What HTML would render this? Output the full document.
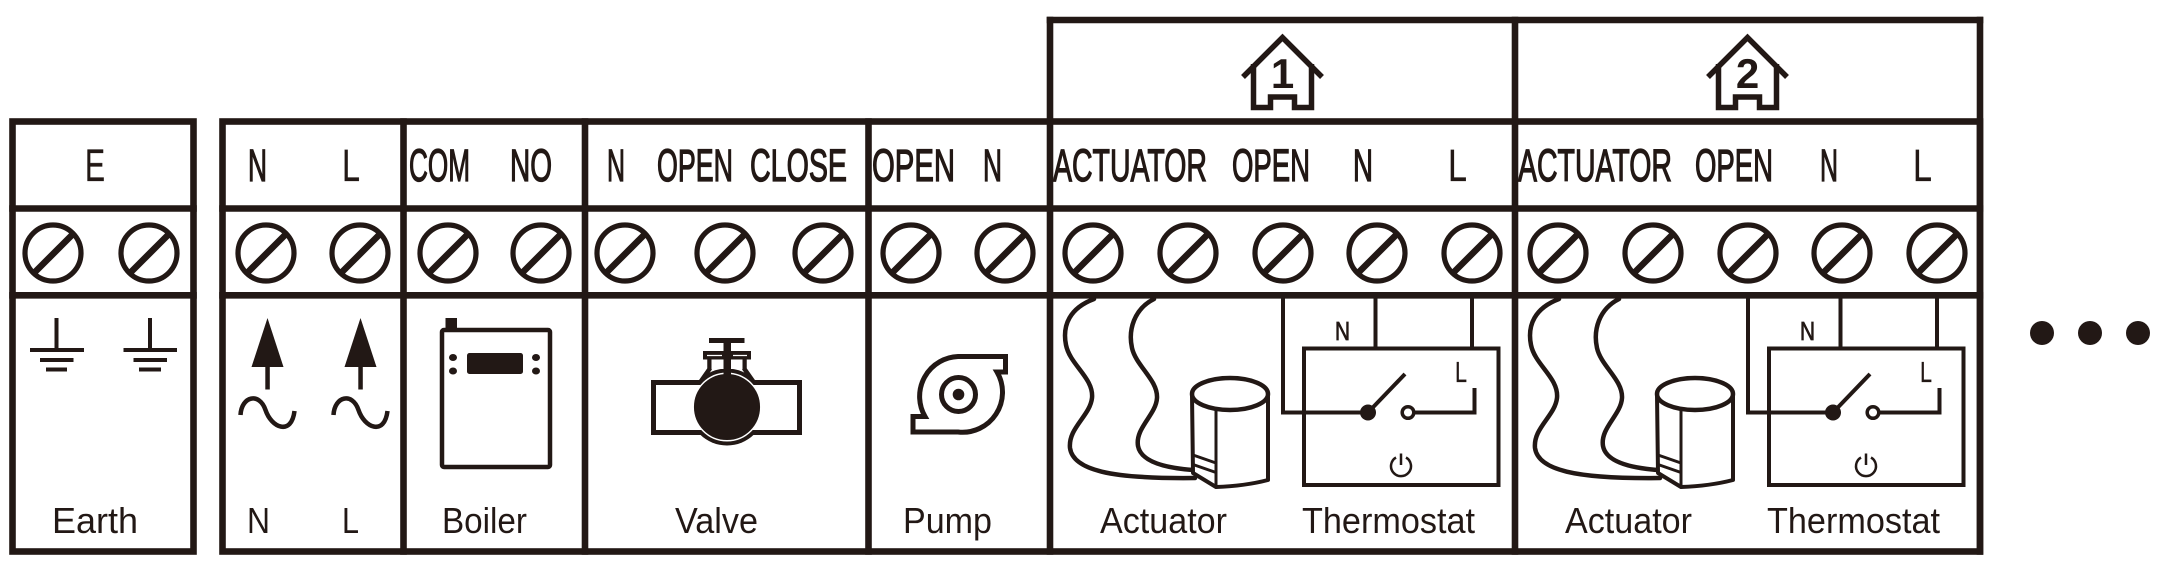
<!DOCTYPE html>
<html>
<head>
<meta charset="utf-8">
<style>
html,body{margin:0;padding:0;background:#fff;}
svg{display:block;}
text{font-family:"Liberation Sans",Arial,sans-serif;fill:#221815;}
.hd text{stroke:#221815;stroke-width:1.3;}
.hd text.lt{stroke-width:0.3;}
</style>
</head>
<body>
<svg width="2179" height="588" viewBox="0 0 2179 588" xmlns="http://www.w3.org/2000/svg">
<rect width="2179" height="588" fill="#fff"/>

<!-- Frames -->
<g stroke="#221815" stroke-width="6.6" fill="none" stroke-linejoin="miter" stroke-linecap="square">
  <rect x="12.5" y="121.5" width="181" height="430"/>
  <line x1="12.5" y1="208.5" x2="193.5" y2="208.5"/>
  <line x1="12.5" y1="295.3" x2="193.5" y2="295.3"/>

  <rect x="222.5" y="121.5" width="1757.5" height="430"/>
  <line x1="222.5" y1="208.5" x2="1980" y2="208.5"/>
  <line x1="222.5" y1="295.3" x2="1980" y2="295.3"/>
  <line x1="403.5" y1="121.5" x2="403.5" y2="551.5"/>
  <line x1="585" y1="121.5" x2="585" y2="551.5"/>
  <line x1="868.5" y1="121.5" x2="868.5" y2="551.5"/>
  <line x1="1050" y1="20" x2="1050" y2="551.5"/>
  <line x1="1515" y1="20" x2="1515" y2="551.5"/>
  <line x1="1980" y1="20" x2="1980" y2="551.5"/>
  <line x1="1050" y1="20" x2="1980" y2="20"/>
</g>

<!-- Terminals -->
<g stroke="#221815" fill="none">
  <g stroke-width="5.2">
    <circle cx="53" cy="253" r="28"/><circle cx="149" cy="253" r="28"/>
    <circle cx="266" cy="253" r="28"/><circle cx="360" cy="253" r="28"/>
    <circle cx="448" cy="253" r="28"/><circle cx="541" cy="253" r="28"/>
    <circle cx="625" cy="253" r="28"/><circle cx="725" cy="253" r="28"/><circle cx="823" cy="253" r="28"/>
    <circle cx="911" cy="253" r="28"/><circle cx="1005" cy="253" r="28"/>
    <circle cx="1093" cy="253" r="28"/><circle cx="1188" cy="253" r="28"/><circle cx="1283" cy="253" r="28"/><circle cx="1377" cy="253" r="28"/><circle cx="1472" cy="253" r="28"/>
    <circle cx="1558" cy="253" r="28"/><circle cx="1653" cy="253" r="28"/><circle cx="1748" cy="253" r="28"/><circle cx="1842" cy="253" r="28"/><circle cx="1937" cy="253" r="28"/>
  </g>
  <g stroke-width="6.5">
    <line x1="35" y1="272" x2="72" y2="235"/><line x1="131" y1="272" x2="168" y2="235"/>
    <line x1="248" y1="272" x2="285" y2="235"/><line x1="342" y1="272" x2="379" y2="235"/>
    <line x1="430" y1="272" x2="467" y2="235"/><line x1="523" y1="272" x2="560" y2="235"/>
    <line x1="607" y1="272" x2="644" y2="235"/><line x1="707" y1="272" x2="744" y2="235"/><line x1="805" y1="272" x2="842" y2="235"/>
    <line x1="893" y1="272" x2="930" y2="235"/><line x1="987" y1="272" x2="1024" y2="235"/>
    <line x1="1075" y1="272" x2="1112" y2="235"/><line x1="1170" y1="272" x2="1207" y2="235"/><line x1="1265" y1="272" x2="1302" y2="235"/><line x1="1359" y1="272" x2="1396" y2="235"/><line x1="1454" y1="272" x2="1491" y2="235"/>
    <line x1="1540" y1="272" x2="1577" y2="235"/><line x1="1635" y1="272" x2="1672" y2="235"/><line x1="1730" y1="272" x2="1767" y2="235"/><line x1="1824" y1="272" x2="1861" y2="235"/><line x1="1919" y1="272" x2="1956" y2="235"/>
  </g>
</g>

<!-- Header labels (condensed) -->
<g class="hd" font-size="45">
  <text class="lt" x="85" y="181" textLength="20" lengthAdjust="spacingAndGlyphs">E</text>
  <text x="248" y="181" textLength="19" lengthAdjust="spacingAndGlyphs">N</text>
  <text class="lt" x="342" y="181" textLength="18" lengthAdjust="spacingAndGlyphs">L</text>
  <text x="409" y="181" textLength="61" lengthAdjust="spacingAndGlyphs">COM</text>
  <text x="510" y="181" textLength="42" lengthAdjust="spacingAndGlyphs">NO</text>
  <text x="607" y="181" textLength="18" lengthAdjust="spacingAndGlyphs">N</text>
  <text x="657" y="181" textLength="76" lengthAdjust="spacingAndGlyphs">OPEN</text>
  <text x="750" y="181" textLength="97" lengthAdjust="spacingAndGlyphs">CLOSE</text>
  <text x="872" y="181" textLength="83" lengthAdjust="spacingAndGlyphs">OPEN</text>
  <text x="983" y="181" textLength="19" lengthAdjust="spacingAndGlyphs">N</text>
  <text x="1053" y="181" textLength="154" lengthAdjust="spacingAndGlyphs">ACTUATOR</text>
  <text x="1232" y="181" textLength="78" lengthAdjust="spacingAndGlyphs">OPEN</text>
  <text x="1353" y="181" textLength="20" lengthAdjust="spacingAndGlyphs">N</text>
  <text class="lt" x="1448" y="181" textLength="19" lengthAdjust="spacingAndGlyphs">L</text>
  <text x="1518" y="181" textLength="154" lengthAdjust="spacingAndGlyphs">ACTUATOR</text>
  <text x="1695" y="181" textLength="78" lengthAdjust="spacingAndGlyphs">OPEN</text>
  <text x="1820" y="181" textLength="18" lengthAdjust="spacingAndGlyphs">N</text>
  <text class="lt" x="1913" y="181" textLength="19" lengthAdjust="spacingAndGlyphs">L</text>
</g>

<!-- Bottom labels -->
<g font-size="36">
  <text x="52" y="533" textLength="86" lengthAdjust="spacingAndGlyphs">Earth</text>
  <text x="247" y="533" textLength="23" lengthAdjust="spacingAndGlyphs">N</text>
  <text x="342" y="533" textLength="17" lengthAdjust="spacingAndGlyphs">L</text>
  <text x="442" y="533" textLength="85" lengthAdjust="spacingAndGlyphs">Boiler</text>
  <text x="675" y="533" textLength="83" lengthAdjust="spacingAndGlyphs">Valve</text>
  <text x="903" y="533" textLength="89" lengthAdjust="spacingAndGlyphs">Pump</text>
  <text x="1100" y="533" textLength="127" lengthAdjust="spacingAndGlyphs">Actuator</text>
  <text x="1302" y="533" textLength="173" lengthAdjust="spacingAndGlyphs">Thermostat</text>
  <text x="1565" y="533" textLength="127" lengthAdjust="spacingAndGlyphs">Actuator</text>
  <text x="1767" y="533" textLength="173" lengthAdjust="spacingAndGlyphs">Thermostat</text>
</g>

<!-- Earth symbols -->
<g stroke="#221815" stroke-width="4" fill="none">
  <path d="M56.5 318 V350 M30 350 H84 M40 360 H73.5 M46 369.5 H67"/>
  <path d="M150 318 V350 M123.5 350 H177 M133.5 360 H167 M139 369.5 H161"/>
</g>

<!-- N L arrows + tilde -->
<g fill="#221815">
  <polygon points="267.5,318 251.5,367 283.5,367"/>
  <rect x="265.3" y="365" width="4.5" height="24.5"/>
  <polygon points="360.5,318 344.5,367 376.5,367"/>
  <rect x="358.3" y="365" width="4.5" height="24.5"/>
</g>
<g stroke="#221815" stroke-width="4.5" fill="none" stroke-linecap="butt">
  <path d="M240.5 415 C241.5 396 259.5 392 265.5 410 S291.5 436 294.5 411"/>
  <path d="M333.5 415 C334.5 396 352.5 392 358.5 410 S384.5 436 387.5 411"/>
</g>

<!-- Boiler -->
<g fill="#221815">
  <rect x="442" y="330" width="108" height="137" rx="2" fill="none" stroke="#221815" stroke-width="4.5"/>
  <rect x="445.5" y="318" width="11.5" height="12"/>
  <rect x="467" y="353" width="56" height="21" rx="2.5"/>
  <ellipse cx="453" cy="357.5" rx="4" ry="3.5"/>
  <ellipse cx="453" cy="371" rx="4" ry="3.5"/>
  <ellipse cx="536" cy="357.5" rx="4" ry="3.5"/>
  <ellipse cx="536" cy="371" rx="4" ry="3.5"/>
</g>

<!-- Valve -->
<g>
  <rect x="653.5" y="382.5" width="146" height="50" fill="#fff" stroke="#221815" stroke-width="5"/>
  <circle cx="727" cy="407" r="38.5" fill="#221815"/>
  <rect x="656" y="385" width="141" height="45" fill="#fff"/>
  <path d="M709.5 358 V369 L699 384 M744.5 358 V369 L755 384" stroke="#221815" stroke-width="4.5" fill="none"/>
  <rect x="711.5" y="359" width="31" height="10" fill="#fff"/>
  <circle cx="727" cy="407" r="33.8" fill="#221815" stroke="#fff" stroke-width="1.5"/>
  <rect x="723.5" y="341" width="7.5" height="34" fill="#221815"/>
  <rect x="703" y="351" width="48" height="8.5" fill="#221815"/>
  <path d="M707 355.5 H722 M733 355.5 H747" stroke="#fff" stroke-width="1.3"/>
  <rect x="709" y="338" width="35.5" height="5" fill="#221815"/>
</g>

<!-- Pump -->
<g stroke="#221815" stroke-width="5" fill="#fff" stroke-linejoin="miter">
  <path d="M958 356.5 L1005.5 356.5 L1005.5 372 L997 372 A40 40 0 0 1 958 432 L913 432 L913 416.5 L925 416.5 A40 40 0 0 1 958 356.5 Z"/>
  <circle cx="958.5" cy="394.5" r="17"/>
</g>
<circle cx="958.5" cy="394.5" r="5.8" fill="#221815"/>

<!-- Zone template -->
<defs>
  <g id="zone">
    <!-- house -->
    <path d="M1243 77 L1282.5 37.5 L1322 77" stroke="#221815" stroke-width="5.5" fill="none" stroke-linejoin="miter"/>
    <path d="M1253.5 64 V107.5 H1270.5 V97 H1294.5 V107.5 H1311.5 V64" stroke="#221815" stroke-width="5.5" fill="none" stroke-linejoin="miter"/>
    <!-- cables -->
    <g stroke="#221815" stroke-width="4.5" fill="none" stroke-linecap="round">
      <path d="M1094 299 C1070 308 1062 325 1066 345 C1070 365 1094 378 1092 398 C1090 416 1068 428 1070 448 C1073 470 1110 479 1195 478"/>
      <path d="M1154 299 C1134 309 1128 330 1132 348 C1136 366 1158 380 1157 398 C1156 415 1135 428 1138 446 C1141 462 1166 468 1193 470"/>
    </g>
    <!-- actuator cylinder -->
    <path d="M1192 395 L1193 473 L1216 487 Q1245 486 1268 480 L1268 395 Z" fill="#fff" stroke="#221815" stroke-width="4" stroke-linejoin="round"/>
    <ellipse cx="1230" cy="394" rx="38" ry="16" fill="#fff" stroke="#221815" stroke-width="4.5"/>
    <path d="M1216 409 V487" stroke="#221815" stroke-width="3" fill="none"/>
    <path d="M1193 455 L1216 463 M1193 464.5 L1216 472.5" stroke="#221815" stroke-width="3" fill="none"/>
    <!-- thermostat -->
    <g stroke="#221815" stroke-width="4" fill="none">
      <rect x="1304" y="348.5" width="194.5" height="136.5"/>
      <path d="M1283 298 V412.5 H1368"/>
      <path d="M1375.5 298 V348.5"/>
      <path d="M1472 298 V348.5"/>
      <path d="M1368 412.5 L1405 374"/>
      <path d="M1414 412.5 H1474.5 V388"/>
      <path d="M1396 457.5 A10 10 0 1 0 1406 457.5" stroke-width="2.5"/>
      <path d="M1401 453.5 V465" stroke-width="2.5"/>
    </g>
    <circle cx="1368" cy="412.5" r="8" fill="#221815"/>
    <circle cx="1408" cy="412.5" r="5.8" fill="#fff" stroke="#221815" stroke-width="3.5"/>
    <text x="1335" y="340" font-size="26" textLength="15" lengthAdjust="spacingAndGlyphs" stroke="#221815" stroke-width="0.8">N</text>
    <text x="1455" y="382" font-size="29" textLength="12" lengthAdjust="spacingAndGlyphs" stroke="#221815" stroke-width="0.3">L</text>
  </g>
</defs>
<use href="#zone"/>
<use href="#zone" transform="translate(465,0)"/>

<text x="1282.5" y="88" font-size="42" font-weight="bold" text-anchor="middle">1</text>
<text x="1747.5" y="88" font-size="42" font-weight="bold" text-anchor="middle">2</text>

<!-- ellipsis dots -->
<g fill="#221815">
  <circle cx="2042" cy="333" r="12"/>
  <circle cx="2090" cy="333" r="12"/>
  <circle cx="2138" cy="333" r="12"/>
</g>
</svg>
</body>
</html>
